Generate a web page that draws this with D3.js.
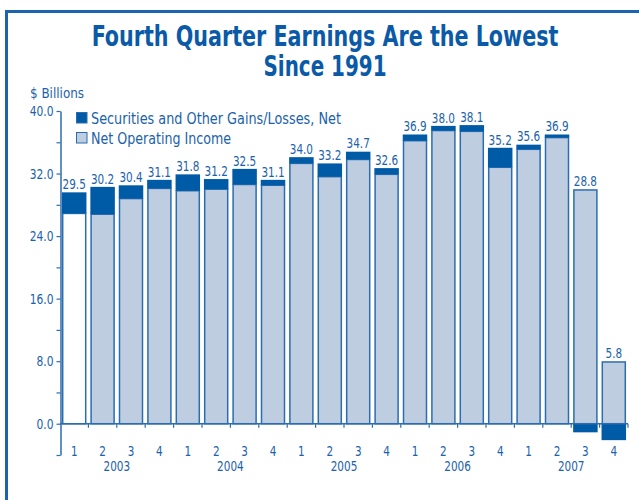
<!DOCTYPE html>
<html>
<head>
<meta charset="utf-8">
<script src="https://cdn.jsdelivr.net/npm/d3@7"></script>
<style>
  body { margin: 0; background: #fff; }
  svg text { font-family: "DejaVu Sans Condensed", "Liberation Sans Narrow", sans-serif; }
</style>
</head>
<body>
<div id="chart"></div>
<script>
// quarter labels and year groups
const quarters = ['1', '2', '3', '4', '1', '2', '3', '4', '1', '2', '3', '4',
                  '1', '2', '3', '4', '1', '2', '3', '4'];
const years = ['2003', '2004', '2005', '2006', '2007'];

// $ billions
const netOperating = [26.9, 26.8, 28.8, 30.1, 29.8, 30.0, 30.6, 30.5, 33.3, 31.6,
                      33.8, 31.9, 36.2, 37.5, 37.4, 32.8, 35.1, 36.6, 29.9, 7.9];
const gains = [2.6, 3.4, 1.6, 1.0, 2.0, 1.2, 1.9, 0.6, 0.7, 1.6,
               0.9, 0.7, 0.7, 0.5, 0.7, 2.4, 0.5, 0.3, -1.1, -2.1];

const yTicks = [-4, 0, 4, 8, 12, 16, 20, 24, 28, 32, 36, 40];

const W = 639, H = 500;
const dark = '#005ba6', light = '#bfcde1', ink = '#1a62ab', edge = '#2c6db0';

// squeeze text horizontally, the original uses a condensed face
function narrow(sel, k) {
    sel.each(function () {
        const len = this.getComputedTextLength();
        d3.select(this)
            .attr('textLength', len * k)
            .attr('lengthAdjust', 'spacingAndGlyphs');
    });
}

// title line scaled to a given width
function titleLine(svg, txt, cx, by, width) {
    const t = svg.append('text')
        .attr('text-anchor', 'middle')
        .attr('fill', '#0a5aa8')
        .attr('font-size', 27.5)
        .attr('font-weight', 'bold')
        .text(txt);
    const k = width / t.node().getComputedTextLength();
    t.attr('transform', 'translate(' + cx + ',' + by + ') scale(' + k + ',1)');
}

const svg = d3.select('#chart').append('svg')
    .attr('width', W)
    .attr('height', H);

// frame (top + left)
svg.append('path')
    .attr('d', 'M6.5,' + H + 'V11.5H' + W)
    .attr('fill', 'none')
    .attr('stroke', '#1c64ae')
    .attr('stroke-width', 3);

titleLine(svg, 'Fourth Quarter Earnings Are the Lowest', 325, 46, 467);
titleLine(svg, 'Since 1991', 325, 76, 123);

svg.append('text')
    .attr('x', 30)
    .attr('y', 98)
    .attr('fill', ink)
    .attr('font-size', 14)
    .attr('textLength', 54)
    .attr('lengthAdjust', 'spacingAndGlyphs')
    .text('$ Billions');

const x = d3.scaleBand()
    .domain(d3.range(quarters.length))
    .range([60, 628])
    .paddingInner(0.19)
    .paddingOuter(0.095);

const y = d3.scaleLinear()
    .domain([-4, 40])
    .range([455, 111]);

// y axis
const yAxis = svg.append('g')
    .attr('transform', 'translate(60.5,0)')
    .call(d3.axisLeft(y)
        .tickValues(yTicks)
        .tickSize(4)
        .tickSizeOuter(0)
        .tickPadding(3)
        .tickFormat(d => (d >= 0 && d % 8 === 0) ? d.toFixed(1) : ''));
yAxis.select('.domain').attr('stroke', edge).attr('stroke-width', 1.5);
yAxis.selectAll('.tick line').attr('stroke', edge).attr('stroke-width', 1.2);
yAxis.selectAll('.tick text')
    .attr('fill', ink)
    .attr('font-size', 14.5)
    .style('font-family', '"DejaVu Sans Condensed", sans-serif')
    .call(narrow, 0.82);

// bars
const bars = svg.append('g');
quarters.forEach((q, i) => {
    const noi = netOperating[i];
    const g = gains[i];
    bars.append('rect')
        .attr('x', x(i))
        .attr('y', y(noi))
        .attr('width', x.bandwidth())
        .attr('height', y(0) - y(noi))
        .attr('fill', i === 0 ? '#fff' : light)
        .attr('stroke', edge)
        .attr('stroke-width', 1.5);
    const y0 = g >= 0 ? y(noi + g) : y(0);
    const y1 = g >= 0 ? y(noi) : y(g);
    bars.append('rect')
        .attr('x', x(i) - 0.75)
        .attr('y', y0 - 0.75)
        .attr('width', x.bandwidth() + 1.5)
        .attr('height', y1 - y0 + 0.75)
        .attr('fill', dark);
    const top = g >= 0 ? noi + g : noi;
    bars.append('text')
        .attr('class', 'val')
        .attr('x', x(i) + x.bandwidth() / 2)
        .attr('y', y(top) - 4)
        .attr('text-anchor', 'middle')
        .attr('fill', ink)
        .attr('font-size', 14.5)
        .text((noi + g).toFixed(1));
});
bars.selectAll('text.val').call(narrow, 0.8);

// x axis at zero
const xa = svg.append('g');
xa.append('line')
    .attr('x1', 60).attr('x2', 628)
    .attr('y1', y(0)).attr('y2', y(0))
    .attr('stroke', edge)
    .attr('stroke-width', 1.5);
const gap = x.step() - x.bandwidth();
d3.range(1, quarters.length + 1).forEach(i => {
    const bx = i < quarters.length ? x(i) - gap / 2 : 628;
    xa.append('line')
        .attr('x1', bx).attr('x2', bx)
        .attr('y1', y(0)).attr('y2', y(0) + 4)
        .attr('stroke', edge)
        .attr('stroke-width', 1.2);
});
quarters.forEach((q, i) => {
    xa.append('text')
        .attr('class', 'lab')
        .attr('x', x(i) + x.bandwidth() / 2)
        .attr('y', 456)
        .attr('text-anchor', 'middle')
        .attr('fill', ink)
        .attr('font-size', 14.5)
        .text(q);
});
years.forEach((yr, k) => {
    const cx = (x(k * 4) + x(k * 4 + 3) + x.bandwidth()) / 2;
    xa.append('text')
        .attr('class', 'lab')
        .attr('x', cx)
        .attr('y', 471)
        .attr('text-anchor', 'middle')
        .attr('fill', ink)
        .attr('font-size', 14.5)
        .text(yr);
});
xa.selectAll('text.lab').call(narrow, 0.8);

// legend
const legend = svg.append('g').attr('transform', 'translate(76,112)');
const items = [
    { label: 'Securities and Other Gains/Losses, Net', fill: dark, w: 250 },
    { label: 'Net Operating Income', fill: light, w: 140 }
];
items.forEach((d, k) => {
    legend.append('rect')
        .attr('x', 0.5)
        .attr('y', k * 20 + 0.5)
        .attr('width', 10.5)
        .attr('height', 10.5)
        .attr('fill', d.fill)
        .attr('stroke', edge)
        .attr('stroke-width', 1);
    legend.append('text')
        .attr('x', 15)
        .attr('y', k * 20 + 11.5)
        .attr('fill', ink)
        .attr('font-size', 15.5)
        .attr('textLength', d.w)
        .attr('lengthAdjust', 'spacingAndGlyphs')
        .text(d.label);
});
</script>
</body>
</html>
